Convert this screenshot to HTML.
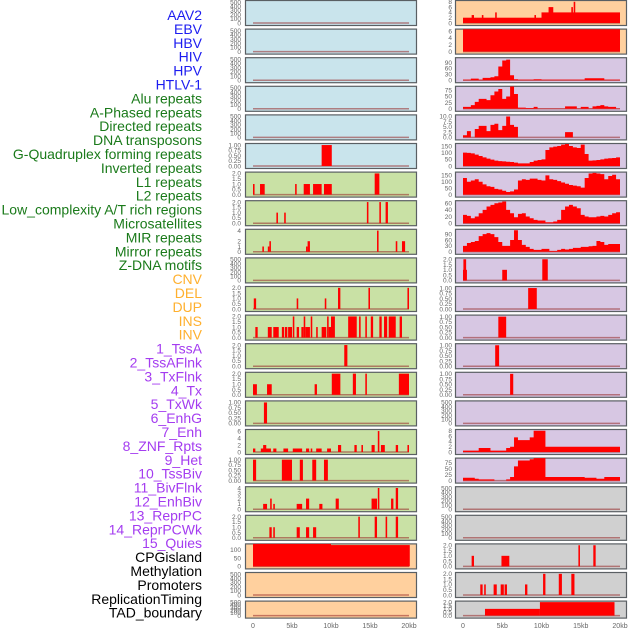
<!DOCTYPE html>
<html><head><meta charset="utf-8"><style>
html,body{margin:0;padding:0;background:#fff;}
svg{display:block;font-family:"Liberation Sans",sans-serif;}
</style></head><body>
<svg id="chart" width="630" height="630" viewBox="0 0 630 630" xmlns="http://www.w3.org/2000/svg"></svg>
<script>
// ---- track labels ----
const labelNames = ["AAV2","EBV","HBV","HIV","HPV","HTLV-1","Alu repeats","A-Phased repeats","Directed repeats","DNA transposons","G-Quadruplex forming repeats","Inverted repeats","L1 repeats","L2 repeats","Low_complexity A/T rich regions","Microsatellites","MIR repeats","Mirror repeats","Z-DNA motifs","CNV","DEL","DUP","INS","INV","1_TssA","2_TssAFlnk","3_TxFlnk","4_Tx","5_TxWk","6_EnhG","7_Enh","8_ZNF_Rpts","9_Het","10_TssBiv","11_BivFlnk","12_EnhBiv","13_ReprPC","14_ReprPCWk","15_Quies","CPGisland","Methylation","Promoters","ReplicationTiming","TAD_boundary"];
const labelGroups = [6,13,5,15,5];
const groupColors = ["#1c1cf0","#1a7a1a","#ffb02e","#a43cf0","#000000"];

// ---- x axis ----
const xTicks = [0,5,10,15,20];
const xTickLabels = ["0","5kb","10kb","15kb","20kb"];

// ---- tick label sets ----
const tEmpty = ["0","100","200","300","400","500"];
const tOne = ["0.00","0.25","0.50","0.75","1.00"];
const tTwo = ["0.0","0.5","1.0","1.5","2.0"];

// ---- left column bar series [startKb,endKb,value] ----
const L5 = [[8.8,10.1,1]];
const L6 = [[0,0.2,1],[0.9,1.5,1],[5.4,5.6,1],[6.5,7.3,1],[7.7,8.8,1],[9.1,10.1,1],[15.6,16.2,2]];
const L7 = [[3.0,3.2,1],[4.0,4.2,1],[14.6,14.8,2],[16.2,16.4,2],[17.0,17.3,2]];
const L8 = [[1.2,1.4,1],[1.9,2.1,1],[2.1,2.3,2],[6.8,7.0,1],[7.0,7.3,2],[15.9,16.1,4],[18.3,18.5,2],[19.1,19.5,2]];
const L10 = [[0.1,0.4,1],[5.6,5.8,1],[9.2,9.4,1],[10.9,11.2,2],[14.8,15.0,2],[19.8,20.0,2]];
const L11 = [[0.3,0.6,1],[1.9,2.4,1],[2.6,3.3,1],[3.7,4.0,1],[4.1,4.4,1],[4.5,5.0,1],[5.1,5.3,2],[5.6,5.9,1],[6.2,6.5,1],[6.5,6.7,2],[6.7,7.3,1],[7.4,7.6,2],[8.1,8.3,1],[8.8,9.4,1],[9.5,9.7,2],[9.7,10.1,1],[10.0,10.5,2],[12.2,13.3,2],[13.6,13.8,2],[14.4,14.6,2],[15.1,15.4,2],[16.2,16.5,2],[16.8,17.2,2],[17.4,18.3,2],[18.8,19.1,2]];
const L12 = [[11.7,12.1,2]];
const L13 = [[0,0.5,1],[1.8,2.4,1],[7.9,8.2,1],[10.1,11.2,2],[12.8,13.2,2],[14.4,14.6,2],[18.7,20,2]];
const L14 = [[1.4,1.8,1]];
const L15 = [[0,0.3,1],[1.0,2.3,1],[1.3,1.7,2],[2.6,3.0,1],[3.9,4.5,1],[5.1,6.3,1],[6.8,7.2,1],[7.4,7.6,1],[8.1,8.8,1],[9.5,10.0,1],[10.9,11.3,2],[13.0,13.3,2],[13.9,14.1,2],[15.2,15.6,2],[16.0,16.2,6],[16.4,16.9,2],[18.3,18.6,2],[19.8,20,2]];
const L16 = [[0,0.4,1],[3.7,5.0,1],[6.0,6.4,1],[7.6,8.1,1],[9.1,9.6,1]];
const L17 = [[1.3,1.8,1],[2.2,2.4,2],[2.6,2.8,1],[5.6,6.3,1],[6.8,7.2,2],[8.5,8.9,1],[10.6,11.0,2],[15.2,15.9,2],[16.0,16.2,4],[17.7,18.0,2],[18.3,18.6,4]];
const L18 = [[2.1,2.4,1],[2.6,2.8,1],[5.6,6.0,1],[6.8,7.2,1],[7.7,8.1,1],[13.5,13.7,2],[15.6,15.9,2],[17.0,17.2,2],[18.3,18.6,2]];
const L19 = [[-0.1,10.0,135],[10.0,20.1,128]];

// ---- right column bar series ----
const R0 = [[-0.1,10,2],[1.1,1.4,3],[2.4,2.6,3],[4.1,4.3,4],[9.1,9.3,3],[10,20,4],[10.9,11.5,6],[13.8,14.0,6],[14.1,14.3,8]];
const R1 = [[-0.1,20,6.5]];
const R9 = [[0,0.5,1],[0.05,0.4,2],[5.0,5.6,1],[10.1,10.8,2]];
const R10 = [[8.3,9.4,1]];
const R11 = [[4.5,5.5,1]];
const R12 = [[4.1,4.6,1]];
const R13 = [[6.0,6.4,1]];
const R19 = [[1.1,1.4,1],[4.9,5.9,1],[14.7,14.9,2],[16.6,16.9,2]];
const R20 = [[2.2,2.5,1],[2.7,2.9,1],[3.9,4.3,1],[4.8,5.2,1],[5.3,5.6,1],[7.9,8.2,1],[10.2,10.5,2],[12.2,12.6,2],[13.8,14.2,2]];
const R21 = [[2.8,9.8,1],[9.8,19.3,2]];

// ---- right column density series (values per 0.5kb bin) ----
const R2 = [3,3,8,8,3,12,12,15,20,70,100,105,25,5,3,3,3,3,5,5,3,3,3,3,3,3,3,3,3,3,3,10,10,10,10,10,3,3,3,3];
const R3 = [8,8,15,28,40,40,35,55,70,80,40,50,90,60,5,5,3,3,8,1,1,1,1,1,1,1,10,10,10,1,8,8,1,10,12,15,10,8,8,1];
const R4 = [1,3,0,4,5.5,5.5,3,6,6.5,3.5,5.5,10,6,5,0,0,0,0,0,0,0,0,0,0,0,0,2.5,2.5,0,0,0,0,0,0,0,0,0,0,0,0];
const R5 = [100,98,95,85,75,65,55,48,40,37,35,32,30,25,20,20,20,30,40,45,50,120,140,145,150,160,165,150,140,135,160,90,40,42,45,50,55,58,60,65];
const R6 = [130,100,110,120,100,80,65,60,45,40,30,20,25,40,110,120,115,125,125,115,110,150,120,115,105,95,85,75,70,65,55,130,165,170,165,160,120,145,155,120];
const R7 = [25,22,15,20,30,40,50,55,60,62,65,40,30,18,28,30,20,15,10,8,8,3,3,5,10,40,50,55,50,45,25,20,18,18,20,22,20,25,30,33];
const R8 = [30,45,50,55,80,90,95,90,75,50,30,30,60,110,60,35,25,15,10,10,15,15,5,5,10,15,12,15,20,20,25,25,28,30,55,50,35,40,40,40];
const R15 = [0.5,0.5,0.5,0.5,1.5,1.5,1.5,0.5,0.5,0.5,0.5,1.5,2,5.5,4.5,4.5,4.5,5.5,8,8,8,2,2,2,2,2,2,2,2,2,2,2,2,2,2,2,2,2,2,2];
const R16 = [12,12,12,8,5,5,5,5,0,0,0,5,15,60,85,85,85,90,95,95,95,15,15,15,15,15,15,15,15,15,15,12,12,12,8,8,15,15,15,15];

// ---- panel configuration: [bg, ticks, ymax, series, kind] ----
const leftPanels = [
 ["#c9e4ec",tEmpty,525,null,"none"],["#c9e4ec",tEmpty,525,null,"none"],["#c9e4ec",tEmpty,525,null,"none"],
 ["#c9e4ec",tEmpty,525,null,"none"],["#c9e4ec",tEmpty,525,null,"none"],["#c9e4ec",tOne,1.05,L5,"bars"],
 ["#c9e1a5",tTwo,2.08,L6,"bars"],["#c9e1a5",tTwo,2.08,L7,"bars"],["#c9e1a5",["0","1","2","4"],4.15,L8,"bars"],
 ["#c9e1a5",tEmpty,525,null,"none"],["#c9e1a5",tTwo,2.08,L10,"bars"],["#c9e1a5",tTwo,2.08,L11,"bars"],
 ["#c9e1a5",tTwo,2.08,L12,"bars"],["#c9e1a5",tTwo,2.08,L13,"bars"],["#c9e1a5",tOne,1.05,L14,"bars"],
 ["#c9e1a5",["0","2","4","6"],6.3,L15,"bars"],["#c9e1a5",tOne,1.05,L16,"bars"],["#c9e1a5",["0","1","2","3","4"],4.15,L17,"bars"],
 ["#c9e1a5",tTwo,2.08,L18,"bars"],["#ffd09e",["0","50","100"],132,L19,"bars"],["#ffd09e",tEmpty,525,null,"none"],
 ["#ffd09e",tEmpty,525,null,"none"]
];
const rightPanels = [
 ["#ffd09e",["0","2","4","6","8"],8.3,R0,"bars"],["#ffd09e",["0","2","4","6"],6.4,R1,"bars"],
 ["#d7c7e3",["0","30","60","90"],112,R2,"area"],["#d7c7e3",["0","25","50","75"],89,R3,"area"],
 ["#d7c7e3",["0.0","2.5","5.0","7.5","10.0"],10.5,R4,"area"],["#d7c7e3",["0","50","100","150"],165,R5,"area"],
 ["#d7c7e3",["0","50","100","150"],172,R6,"area"],["#d7c7e3",["0","20","40","60"],66,R7,"area"],
 ["#d7c7e3",["0","30","60","90"],112,R8,"area"],["#d7c7e3",tTwo,2.08,R9,"bars"],
 ["#d7c7e3",tOne,1.05,R10,"bars"],["#d7c7e3",tOne,1.05,R11,"bars"],["#d7c7e3",tOne,1.05,R12,"bars"],
 ["#d7c7e3",tOne,1.05,R13,"bars"],["#d7c7e3",tEmpty,525,null,"none"],
 ["#d7c7e3",["0","2","4","6","8"],8.3,R15,"area"],["#d7c7e3",["0","25","50","75"],93,R16,"area"],
 ["#d0d0d0",tEmpty,525,null,"none"],["#d0d0d0",tEmpty,525,null,"none"],
 ["#d0d0d0",tTwo,2.08,R19,"bars"],["#d0d0d0",tTwo,2.08,R20,"bars"],["#d0d0d0",tTwo,2.08,R21,"bars"]
];

const NS = "http://www.w3.org/2000/svg";
const svg = document.getElementById("chart");
function mk(tag, attrs, parent) {
  const e = document.createElementNS(NS, tag);
  for (const k in attrs) e.setAttribute(k, attrs[k]);
  (parent || svg).appendChild(e);
  return e;
}

// labels
let li = 0;
labelGroups.forEach((n, g) => {
  for (let j = 0; j < n; j++) {
    const t = mk("text", {x: 202, y: 20 + li * 13.9, "text-anchor": "end", "font-size": 14, fill: groupColors[g]});
    
    
    t.textContent = labelNames[li];
    li++;
  }
});

const columns = [
  {panels: leftPanels, px0: 245, px1: 416, x0: 253, kbScale: 7.8, tickX: 241, name: "left"},
  {panels: rightPanels, px0: 455, px1: 626, x0: 463, kbScale: 7.85, tickX: 452, name: "right"}
];

columns.forEach(col => {
  const xs = kb => col.x0 + Math.max(0, Math.min(20.15, kb)) * col.kbScale;
  col.panels.forEach((p, i) => {
    const [bg, ticks, ymax, series, kind] = p;
    const top = i * 28.6;
    const h = i === 21 ? 17 : 25;
    const y0 = top + h - 2, yT = top + 1;
    const ys = v => y0 - (v / ymax) * (y0 - yT);
    const g = mk("g", {});
    
    
    const r = mk("rect", {x: col.px0 + 0.5, y: top + 0.5, width: col.px1 - col.px0, height: h, fill: bg, stroke: "#5a5f63", "stroke-width": 1.2}, g);
    
    
    // baseline
    const bl = mk("line", {x1: xs(0), x2: xs(20), y1: y0, y2: y0, stroke: "rgba(150,40,40,0.55)", "stroke-width": 1.5}, g);
    
    
    if (kind === "bars") {
      series.forEach(b => {
        const x1 = xs(b[0]), x2 = xs(b[1]);
        const yy = ys(b[2]);
        const rr = mk("rect", {x: x1, y: yy, width: Math.max(1.2, x2 - x1), height: y0 - yy, fill: "#ff0000"}, g);
        
        
      });
    } else if (kind === "area") {
      let d = "M" + xs(0) + "," + y0;
      series.forEach((v, k) => {
        d += " L" + xs(k * 0.5) + "," + ys(v) + " L" + xs((k + 1) * 0.5) + "," + ys(v);
      });
      d += " L" + xs(20) + "," + y0 + " Z";
      const pa = mk("path", {d: d, fill: "#ff0000"}, g);
      
      
    }
    // y ticks
    ticks.forEach(t => {
      const v = parseFloat(t);
      const tt = mk("text", {x: col.tickX, y: ys(v) + 2.3, "text-anchor": "end", "font-size": 6.5, fill: "#666"}, g);
      
      
      tt.textContent = t;
    });
  });
  // x ticks
  xTicks.forEach((k, j) => {
    const t = mk("text", {x: xs(k), y: 628, "text-anchor": "middle", "font-size": 7, fill: "#666"});
    
    
    t.textContent = xTickLabels[j];
  });
});
</script>
</body></html>
